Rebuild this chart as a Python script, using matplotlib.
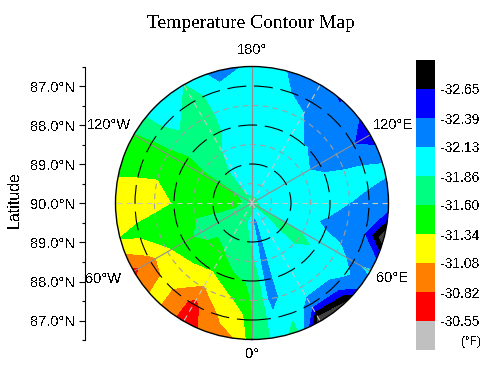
import numpy as np
import matplotlib
matplotlib.use("Agg")
import matplotlib.pyplot as plt

plt.rcParams['font.family'] = ['Liberation Sans', 'DejaVu Sans']
plt.rcParams['text.antialiased'] = False

W, H = 498, 378

# longitude of each row, east positive
lons = [-180, -165, -150, -135, -120, -105, -90, -75, -60, -45, -30, -15, -5,
        0, 5, 11, 19, 30, 45, 54, 60, 75, 90, 105, 120, 135, 139, 150, 165, 180]
# distance from the pole in degrees of latitude
colats = [0, 0.5, 1, 1.5, 2, 2.5, 3, 3.6]
# temperature (F), one row per longitude
temps = [
    [-31.8, -32.0, -32.0, -32.0, -32.0, -32.0, -32.0, -32.1],
    [-31.8, -31.95, -32.0, -32.0, -32.0, -32.0, -32.05, -32.3],
    [-31.8, -31.95, -31.95, -31.87, -31.75, -31.75, -31.75, -31.88],
    [-31.8, -31.75, -31.75, -31.7, -31.75, -31.82, -32.0, -32.05],
    [-31.8, -31.6, -31.58, -31.58, -31.5, -31.55, -31.55, -31.6],
    [-31.8, -31.5, -31.45, -31.45, -31.4, -31.35, -31.37, -31.4],
    [-31.8, -31.45, -31.45, -31.4, -31.36, -31.25, -31.2, -31.2],
    [-31.8, -31.6, -31.6, -31.6, -31.55, -31.5, -31.42, -31.34],
    [-31.8, -31.7, -31.7, -31.7, -31.5, -31.3, -31.0, -30.72],
    [-31.8, -31.75, -31.65, -31.55, -31.42, -31.2, -31.15, -31.2],
    [-31.8, -31.8, -31.7, -31.58, -31.36, -31.07, -30.75, -30.7],
    [-31.8, -31.86, -31.75, -31.73, -31.55, -31.3, -31.15, -30.95],
    [-31.8, -31.9, -31.85, -31.75, -31.62, -31.45, -31.3, -31.1],
    [-31.8, -31.95, -31.9, -31.8, -31.75, -31.65, -31.6, -31.6],
    [-31.8, -32.15, -32.0, -31.95, -31.85, -31.75, -31.75, -31.8],
    [-31.8, -32.3, -32.3, -32.3, -32.3, -32.3, -32.05, -31.95],
    [-31.8, -32.0, -32.0, -32.0, -32.0, -32.02, -31.92, -31.75],
    [-31.8, -32.0, -32.0, -32.0, -32.0, -32.0, -32.25, -33.4],
    [-31.8, -32.0, -31.92, -31.92, -32.0, -32.05, -32.2, -33.05],
    [-31.8, -31.75, -31.62, -31.62, -32.0, -32.05, -32.1, -32.3],
    [-31.8, -31.95, -31.9, -31.95, -32.0, -32.05, -32.2, -32.05],
    [-31.8, -31.95, -32.0, -32.05, -32.2, -32.28, -32.4, -33.3],
    [-31.8, -32.0, -32.0, -32.0, -32.0, -32.13, -32.2, -32.3],
    [-31.8, -32.0, -32.0, -32.0, -32.0, -32.05, -32.05, -32.08],
    [-31.8, -32.0, -32.0, -32.05, -32.25, -32.3, -32.38, -32.6],
    [-31.8, -32.0, -32.0, -32.0, -32.13, -32.3, -32.3, -32.28],
    [-31.8, -32.0, -32.0, -32.0, -32.13, -32.28, -32.28, -32.45],
    [-31.8, -32.0, -32.0, -32.0, -32.0, -32.1, -32.2, -32.3],
    [-31.8, -32.0, -32.0, -32.0, -32.0, -32.0, -32.1, -32.14],
    [-31.8, -32.0, -32.0, -32.0, -32.0, -32.0, -32.0, -32.1],
]

bar_levels = [-32.65, -32.39, -32.13, -31.86, -31.60, -31.34, -31.08, -30.82, -30.55]
bar_colors = ['#000000', '#0000FF', '#0080FF', '#00FFFF', '#00FF80',
              '#00FF00', '#FFFF00', '#FF8000', '#FF0000', '#C0C0C0']
deep_color = '#404040'
deep_level = -32.9

lat_ticks = [-3, -2, -1, 0, 1, 2, 3]
lat_labels = ['87.0°N', '88.0°N', '89.0°N', '90.0°N', '89.0°N', '88.0°N', '87.0°N']


def box(left, top, right, bottom):
    # pixel box to figure fractions
    return [left / W, 1 - bottom / H, (right - left) / W, (bottom - top) / H]


fig = plt.figure(figsize=(W / 100, H / 100), dpi=100)

# map
ax = fig.add_axes(box(115.5, 66.5, 388.5, 339.5), projection='polar')
ax.set_theta_zero_location('S')
ax.set_theta_direction(1)
levels = [-40, deep_level] + bar_levels + [-29]
ax.contourf(np.radians(lons), colats, np.array(temps).T, levels=levels,
            colors=[deep_color] + bar_colors, antialiased=False)
ax.set_rlim(0, 3.5)
ax.set_xticks(np.radians([0, 60, 120, 180, 240, 300]))
ax.set_xticks(np.radians([30, 90, 150, 210, 270, 330]), minor=True)
ax.set_yticks([1, 2, 3])
ax.set_yticks([0.5, 1.5, 2.5], minor=True)
ax.set_xticklabels([])
ax.set_yticklabels([])
ax.tick_params(which='both', length=0)
ax.xaxis.grid(True, which='major', color='#909090', lw=0.8, ls='-')
ax.xaxis.grid(True, which='minor', color='#c8c8c8', lw=0.8, ls=(0, (5, 4)))
ax.yaxis.grid(True, which='major', color='black', lw=0.8, ls=(0, (17, 7)))
ax.yaxis.grid(True, which='minor', color='#a0a0a0', lw=0.8, ls=(0, (5, 4)))
ax.spines['polar'].set_linewidth(1)

# latitude axis
lat_ax = fig.add_axes(box(85, 67, 110, 340))
lat_ax.patch.set_alpha(0)
lat_ax.set_ylim(3.5, -3.5)
lat_ax.set_xticks([])
for s in ['top', 'right', 'bottom']:
    lat_ax.spines[s].set_visible(False)
lat_ax.spines['left'].set_linewidth(0.8)
lat_ax.set_yticks(lat_ticks)
lat_ax.set_yticklabels(lat_labels, fontsize=10.5)
lat_ax.set_yticks(np.arange(-3.5, 4, 1), minor=True)
lat_ax.tick_params(axis='y', which='major', length=4, width=0.8, pad=3)
lat_ax.tick_params(axis='y', which='minor', length=2.5, width=0.8)

# colour bar
cax = fig.add_axes(box(416, 60, 435, 350))
cax.bar(0, 1, bottom=np.arange(len(bar_colors)), width=1, color=bar_colors, align='center')
cax.set_xlim(-0.5, 0.5)
cax.set_ylim(len(bar_colors), 0)
cax.set_xticks([])
cax.yaxis.tick_right()
cax.set_yticks(np.arange(1, len(bar_colors)))
cax.set_yticklabels(['%.2f' % v for v in bar_levels], fontsize=10)
cax.tick_params(axis='y', length=0, pad=4)
for s in cax.spines.values():
    s.set_visible(False)


def label(x, y, s, **kw):
    fig.text(x / W, 1 - y / H, s, ha=kw.pop('ha', 'center'), va='center', **kw)


label(251, 23, 'Temperature Contour Map', fontsize=14, family='Liberation Serif')
label(14, 200, 'Latitude', fontsize=11.5, rotation=90)
label(252, 50, '180°', fontsize=10.5)
label(252, 354, '0°', fontsize=10.5)
label(109, 125, '120°W', fontsize=10.5)
label(393, 125, '120°E', fontsize=10.5)
label(103, 279, '60°W', fontsize=10.5)
label(392, 278, '60°E', fontsize=10.5)
label(471, 342, '(°F)', fontsize=8.5)

fig.savefig('out.png', dpi=100)
